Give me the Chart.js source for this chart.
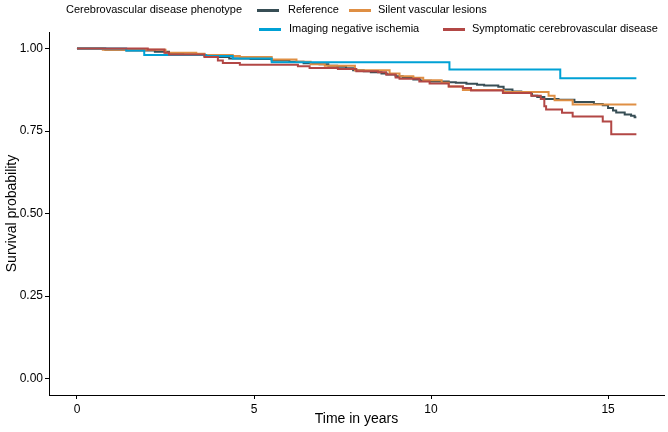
<!DOCTYPE html>
<html>
<head>
<meta charset="utf-8">
<script src="https://cdn.jsdelivr.net/npm/chart.js@4.4.1/dist/chart.umd.min.js"></script>
<style>
  html, body { margin: 0; padding: 0; background: #fff; }
  #wrap { position: relative; width: 668px; height: 432px; }
  .lg { position: absolute; font: 11px "Liberation Sans", Arial, sans-serif; color: #000; line-height: 13px; white-space: nowrap; }
  .sw { position: absolute; height: 3px; width: 22px; }
</style>
</head>
<body>
<div id="wrap">
  <canvas id="km" width="668" height="432"></canvas>
  <div class="lg" style="left:66px; top:3px;">Cerebrovascular disease phenotype</div>
  <div class="sw" style="left:257px; top:9px; background:#374E55;"></div>
  <div class="lg" style="left:288px; top:3px;">Reference</div>
  <div class="sw" style="left:349px; top:9px; background:#DF8F44;"></div>
  <div class="lg" style="left:378px; top:3px;">Silent vascular lesions</div>
  <div class="sw" style="left:259px; top:28px; background:#00A1D5;"></div>
  <div class="lg" style="left:289px; top:22px;">Imaging negative ischemia</div>
  <div class="sw" style="left:443px; top:28px; background:#B24745;"></div>
  <div class="lg" style="left:472px; top:22px;">Symptomatic cerebrovascular disease</div>
</div>
<script>
// Kaplan-Meier steps (time in years, survival)
const refTime = [0, 0.8, 1.4, 2.2, 2.6, 3.0, 3.6, 4.0, 4.3, 4.9, 5.5, 6.0, 6.4, 6.85, 7.1, 7.35, 7.6, 7.8, 8.1, 8.3, 8.6, 8.75, 9.0, 9.2, 9.5, 9.7, 10.0, 10.5, 10.7, 11.0, 11.3, 11.5, 11.9, 12.05, 12.3, 12.55, 12.85, 13.0, 13.2, 13.6, 14.05, 14.6, 14.85, 15.0, 15.14, 15.23, 15.47, 15.65, 15.75, 15.8];
const refSurv = [1, 0.996, 0.994, 0.99, 0.985, 0.982, 0.978, 0.974, 0.97, 0.968, 0.964, 0.96, 0.955, 0.952, 0.948, 0.945, 0.94, 0.934, 0.931, 0.928, 0.924, 0.921, 0.916, 0.911, 0.906, 0.902, 0.9, 0.898, 0.896, 0.893, 0.89, 0.888, 0.884, 0.876, 0.87, 0.865, 0.857, 0.853, 0.847, 0.845, 0.838, 0.832, 0.828, 0.82, 0.812, 0.806, 0.8, 0.796, 0.792, 0.792];

const silentTime = [0, 0.73, 2.5, 3.37, 3.6, 4.4, 4.6, 5.5, 6.2, 6.6, 7.0, 7.85, 8.83, 9.11, 9.5, 9.78, 10.3, 10.5, 10.9, 12.05, 13.32, 13.49, 14.0, 15.8];
const silentSurv = [1, 0.996, 0.987, 0.984, 0.98, 0.977, 0.974, 0.967, 0.96, 0.952, 0.948, 0.934, 0.924, 0.916, 0.911, 0.904, 0.896, 0.885, 0.874, 0.868, 0.857, 0.843, 0.83, 0.83];

const imagingTime = [0, 1.39, 1.9, 3.65, 4.4, 5.5, 10.52, 13.65, 15.8];
const imagingSurv = [1, 0.994, 0.98, 0.977, 0.97, 0.958, 0.936, 0.91, 0.91];

const sympTime = [0, 2.0, 2.47, 2.6, 3.6, 3.98, 4.12, 4.6, 6.24, 6.57, 7.37, 7.89, 8.5, 8.73, 9.0, 9.11, 9.67, 9.96, 10.5, 10.9, 11.13, 12.03, 12.83, 13.1, 13.2, 13.25, 13.7, 14.0, 14.85, 15.09, 15.8];
const sympSurv = [1, 0.997, 0.987, 0.982, 0.974, 0.964, 0.956, 0.951, 0.946, 0.941, 0.938, 0.931, 0.928, 0.921, 0.912, 0.908, 0.9, 0.894, 0.885, 0.88, 0.873, 0.865, 0.857, 0.847, 0.825, 0.815, 0.805, 0.794, 0.779, 0.74, 0.74];

const xTicks = [0, 5, 10, 15];
const yTicks = [0, 0.25, 0.5, 0.75, 1];

function steps(t, s) {
    return t.map((x, i) => ({ x: x, y: s[i] }));
}

function curve(label, t, s, color) {
    return {
        label: label,
        data: steps(t, s),
        borderColor: color,
        backgroundColor: color,
        borderWidth: 2,
        stepped: 'before',
        pointRadius: 0,
        fill: false
    };
}

const font = { family: '"Liberation Sans", Arial, sans-serif' };

new Chart(document.getElementById('km'), {
    type: 'line',
    data: {
        // first dataset is drawn on top
        datasets: [
            curve('Symptomatic cerebrovascular disease', sympTime, sympSurv, '#B24745'),
            curve('Imaging negative ischemia', imagingTime, imagingSurv, '#00A1D5'),
            curve('Silent vascular lesions', silentTime, silentSurv, '#DF8F44'),
            curve('Reference', refTime, refSurv, '#374E55')
        ]
    },
    options: {
        responsive: false,
        animation: false,
        layout: { padding: { top: 32, right: 4, left: 0, bottom: 0 } },
        plugins: {
            legend: { display: false },
            tooltip: { enabled: false }
        },
        scales: {
            x: {
                type: 'linear',
                min: -0.79,
                max: 16.58,
                afterBuildTicks: (ax) => { ax.ticks = xTicks.map(v => ({ value: v })); },
                afterFit: (ax) => { ax.height = 37; },
                grid: { drawOnChartArea: false, color: '#000', tickLength: 4 },
                border: { color: '#000', width: 1 },
                ticks: { color: '#000', padding: 3, font: { ...font, size: 12 } },
                title: { display: true, text: 'Time in years', color: '#000', font: { ...font, size: 14 }, padding: { top: 2, bottom: 4 } }
            },
            y: {
                min: -0.05,
                max: 1.05,
                afterBuildTicks: (ax) => { ax.ticks = yTicks.map(v => ({ value: v })); },
                afterFit: (ax) => { ax.width = 49; },
                grid: { drawOnChartArea: false, color: '#000', tickLength: 4 },
                border: { color: '#000', width: 1 },
                ticks: { color: '#000', padding: 2, font: { ...font, size: 12 }, callback: (v) => v.toFixed(2) },
                title: { display: true, text: 'Survival probability', color: '#000', font: { ...font, size: 14 }, padding: { top: 4, bottom: 2 } }
            }
        }
    }
});
</script>
</body>
</html>
